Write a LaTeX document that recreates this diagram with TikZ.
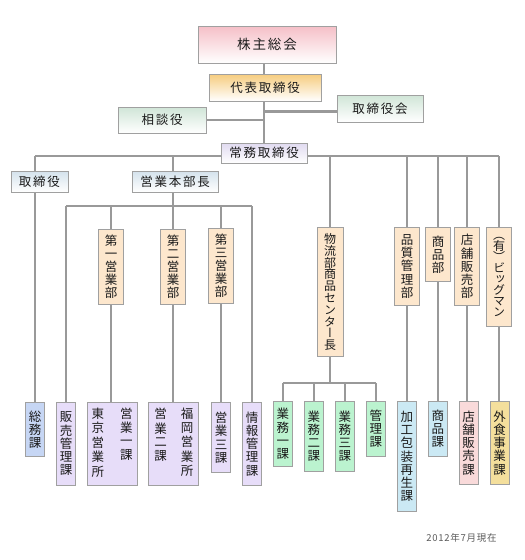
\documentclass[tikz,border=0pt]{standalone}
\usepackage{fontspec}
\setmainfont{Noto Sans CJK JP}
\newfontfamily\vjp[RawFeature=+vert]{Noto Sans CJK JP}
\newfontfamily\hjp[LetterSpace=14]{Noto Sans CJK JP}
\newfontfamily\djp[LetterSpace=8]{Noto Sans CJK JP}
\usetikzlibrary{backgrounds}
\definecolor{conncol}{HTML}{999999}
\definecolor{bordcol}{HTML}{A0A0A0}
\definecolor{txtcol}{HTML}{1A1A1A}
\definecolor{deptcol}{HTML}{FDE7CD}
\definecolor{somucol}{HTML}{C6D6F4}
\definecolor{lavcol}{HTML}{E7DDF9}
\definecolor{greencol}{HTML}{BBF3CF}
\definecolor{bluecol}{HTML}{CBE9F4}
\definecolor{pinkcol}{HTML}{F9DADA}
\definecolor{yelcol}{HTML}{F4DF9C}
\definecolor{kabutop}{HTML}{F5BFC7}
\definecolor{daitop}{HTML}{F6CC7E}
\definecolor{greentop}{HTML}{D0E5D7}
\definecolor{jomutop}{HTML}{E0DAF0}
\definecolor{bluetop}{HTML}{D4E2EC}
\newcommand{\vtxt}[1]{\begin{tabular}[t]{@{}c@{}}#1\end{tabular}}
\begin{document}
\begin{tikzpicture}[x=1pt,y=-1pt,
  conn/.style={draw=conncol,line width=2.3pt},
  boxbase/.style={draw=bordcol,line width=0.8pt,inner sep=0pt,outer sep=0pt,text=txtcol},
  head/.style={boxbase,font=\hjp\fontsize{12.5}{14}\selectfont,bottom color=white},
  vbox/.style={boxbase,anchor=north,align=center,font=\vjp\fontsize{12.5}{13.2}\selectfont},
  dept/.style={vbox,fill=deptcol,minimum width=25.4pt},
  ka/.style={vbox,minimum width=19pt},
  date/.style={font=\djp\fontsize{9.5}{10}\selectfont,text=black!65}
]
\useasboundingbox (0,0) rectangle (525,560);
% header boxes
\node[head,top color=kabutop,minimum width=138pt,minimum height=37pt,font=\hjp\fontsize{13.5}{15}\selectfont] (kabu) at (267,44.5) {株主総会};
\node[head,top color=daitop,minimum width=112pt,minimum height=27pt] (daihyo) at (265,87.5) {代表取締役};
\node[head,top color=greentop,minimum width=86pt,minimum height=27pt] (torikai) at (380,108.5) {取締役会};
\node[head,top color=greentop,minimum width=88pt,minimum height=26pt] (sodan) at (162,120) {相談役};
\node[head,top color=jomutop,minimum width=86pt,minimum height=20pt] (jomu) at (264,153) {常務取締役};
\node[head,top color=bluetop,minimum width=57pt,minimum height=21pt] (torishimari) at (39.5,181.5) {取締役};
\node[head,top color=bluetop,minimum width=86pt,minimum height=21pt] (honbu) at (175,181.5) {営業本部長};
% department boxes
\node[dept,minimum height=75pt] (dai1) at (111,229.3) {第\\一\\営\\業\\部};
\node[dept,minimum height=75pt] (dai2) at (173,229.3) {第\\二\\営\\業\\部};
\node[dept,minimum height=75pt] (dai3) at (221,228.3) {第\\三\\営\\業\\部};
\node[dept,minimum height=129.4pt,font=\vjp\fontsize{12}{11.8}\selectfont] (butsuryu) at (330.2,227.3) {物\\流\\部\\商\\品\\セ\\ン\\タ\\ー\\長};
\node[dept,minimum height=77.6pt] (hinshitsu) at (407,227.7) {品\\質\\管\\理\\部};
\node[dept,minimum height=53.6pt] (shohinbu) at (438,227.7) {商\\品\\部};
\node[dept,minimum height=77.6pt] (tenpobu) at (467,227.7) {店\\舗\\販\\売\\部};
\node[dept,minimum height=99pt,font=\vjp\fontsize{12}{11}\selectfont] (big) at (499,227.7) {（\\有\\）\\ビ\\ッ\\グ\\マ\\ン};
% section boxes
\node[ka,fill=somucol,minimum height=54pt] (somu) at (35,402.7) {総\\務\\課};
\node[ka,fill=lavcol,minimum height=82.3pt] (hanbai) at (66,402.7) {販\\売\\管\\理\\課};
\node[vbox,fill=lavcol,minimum width=50.4pt,minimum height=82.3pt] (eigyo1) at (112.2,402.7) {\vtxt{東\\京\\営\\業\\所}\hspace{16pt}\vtxt{営\\業\\一\\課}};
\node[vbox,fill=lavcol,minimum width=50pt,minimum height=82.3pt] (eigyo2) at (173.8,402.7) {\vtxt{営\\業\\二\\課}\hspace{14pt}\vtxt{福\\岡\\営\\業\\所}};
\node[ka,fill=lavcol,minimum height=70pt] (eigyo3) at (221,402.7) {営\\業\\三\\課};
\node[ka,fill=lavcol,minimum height=82.3pt] (joho) at (252,402.7) {情\\報\\管\\理\\課};
\node[ka,fill=greencol,minimum height=64.3pt] (gyomu1) at (282.8,401.7) {業\\務\\一\\課};
\node[ka,fill=greencol,minimum height=69.3pt] (gyomu2) at (313.8,401.7) {業\\務\\二\\課};
\node[ka,fill=greencol,minimum height=69.3pt] (gyomu3) at (344.8,401.7) {業\\務\\三\\課};
\node[ka,fill=greencol,minimum height=54.3pt] (kanri) at (375.8,401.7) {管\\理\\課};
\node[ka,fill=bluecol,minimum height=109.3pt] (kako) at (406.8,401.7) {加\\工\\包\\装\\再\\生\\課};
\node[ka,fill=bluecol,minimum height=54.3pt] (shohinka) at (437.8,401.7) {商\\品\\課};
\node[ka,fill=pinkcol,minimum height=82.3pt] (tenpoka) at (468.5,401.7) {店\\舗\\販\\売\\課};
\node[ka,fill=yelcol,minimum height=82.3pt] (gaishoku) at (499.5,401.7) {外\\食\\事\\業\\課};
% date
\node[date] (date) at (461.5,538) {2012年7月現在};
% connectors
\coordinate (mainL) at (35,156);
\coordinate (mainR) at (499,156);
\coordinate (subL) at (66,206);
\coordinate (subR) at (252,206);
\coordinate (gyoH) at (330,383);
\begin{pgfonlayer}{background}
\draw[conn] (kabu.south -| jomu) -- (jomu.north);
\draw[conn] (sodan.east) -- (sodan.east -| jomu);
\draw[conn] ([yshift=-3pt]torikai.west) -- ([yshift=-3pt]torikai.west -| jomu);
\draw[conn] (mainL) -- (mainR);
\draw[conn] (mainL) -- (somu.north);
\draw[conn] (dai2 |- mainL) -- (dai2 |- eigyo2.north);
\draw[conn] (subL) -- (subR);
\draw[conn] (subL) -- (hanbai.north);
\draw[conn] (dai1 |- subL) -- (dai1 |- eigyo1.north);
\draw[conn] (dai3 |- subL) -- (eigyo3.north);
\draw[conn] (subR) -- (joho.north);
\draw[conn] (butsuryu |- mainL) -- (butsuryu.north);
\draw[conn] (butsuryu.south) -- (butsuryu |- gyoH);
\draw[conn] (gyomu1 |- gyoH) -- (kanri |- gyoH);
\draw[conn] (gyomu1 |- gyoH) -- (gyomu1.north);
\draw[conn] (gyomu2 |- gyoH) -- (gyomu2.north);
\draw[conn] (gyomu3 |- gyoH) -- (gyomu3.north);
\draw[conn] (kanri |- gyoH) -- (kanri.north);
\draw[conn] (hinshitsu |- mainL) -- (hinshitsu |- kako.north);
\draw[conn] (shohinbu |- mainL) -- (shohinbu |- shohinka.north);
\draw[conn] (tenpobu |- mainL) -- (tenpobu.north);
\draw[conn] (tenpobu.south) -- (tenpobu.south |- tenpoka.north);
\draw[conn] (mainR) -- (big.north);
\draw[conn] (big.south) -- (big.south |- gaishoku.north);
\end{pgfonlayer}
\end{tikzpicture}
\end{document}
